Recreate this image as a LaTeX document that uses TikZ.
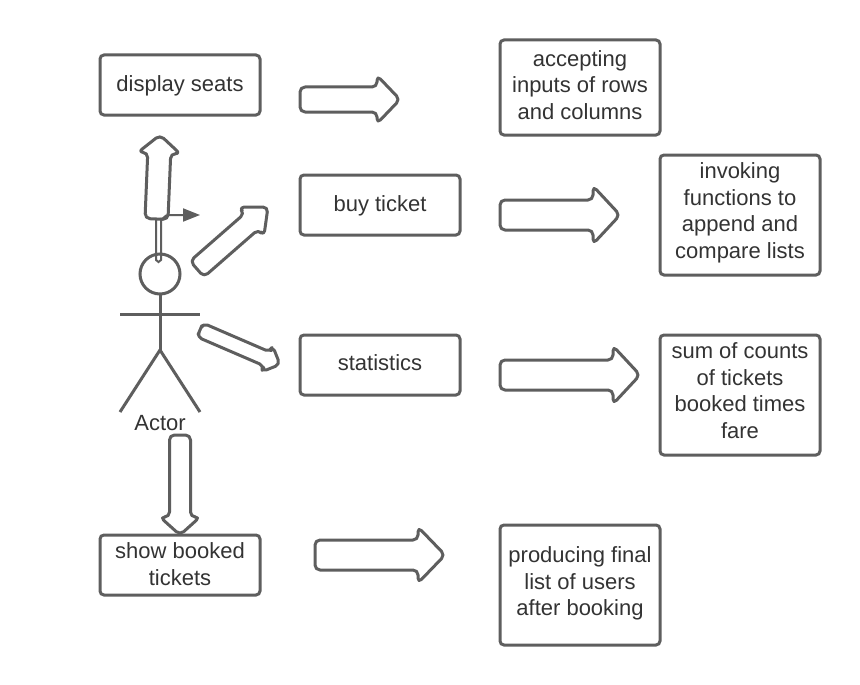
\documentclass[tikz,border=0pt]{standalone}
\usepackage{fontspec}
\setmainfont{Liberation Sans}
\usetikzlibrary{calc,arrows.meta}
\definecolor{linec}{HTML}{5E5E5E}
\definecolor{textc}{HTML}{333333}
\tikzset{
  box/.style={draw=linec,line width=3pt,rounded corners=4pt,fill=white,anchor=north west,inner sep=0pt,outer sep=0pt,
    align=center,text=textc,font=\fontsize{22}{26.5}\selectfont},
  blockarrow/.style={draw=linec,line width=3pt,rounded corners=5pt,line join=round},
  actorline/.style={draw=linec,line width=3pt},
  lbl/.style={text=textc,font=\fontsize{22}{26.5}\selectfont,inner sep=0pt}
}
% start, tip, shaft half width, head half width, head length
\newcommand{\blockarrow}[5]{%
  \coordinate (hb) at ($(#2)!#5!(#1)$);
  \draw[blockarrow] (#1) -- ($(#1)!#3!90:(#2)$) -- ($(hb)!#3!90:(#2)$) -- ($(hb)!#4!90:(#2)$) -- (#2)
    -- ($(hb)!#4!-90:(#2)$) -- ($(hb)!#3!-90:(#2)$) -- ($(#1)!#3!-90:(#2)$) -- cycle;
}
% name, x, y, width, height, raise, text
\newcommand{\boxnode}[7]{\node[box,minimum width=#4pt,minimum height=#5pt] (#1) at (#2,#3)
  {\raisebox{#6pt}[\height][\depth]{\begin{tabular}{@{}c@{}}#7\end{tabular}}};}
\begin{document}
\begin{tikzpicture}[x=1pt,y=-1pt]
\useasboundingbox (0,0) rectangle (860,685);
\fill[white] (0,0) rectangle (860,685);
% boxes
\boxnode{seats}{100}{55}{160}{60}{-1}{display seats}
\boxnode{accept}{500}{40}{160}{95}{0}{accepting\\inputs of rows\\and columns}
\boxnode{buy}{300}{175}{160}{60}{-1}{buy ticket}
\boxnode{invoke}{660}{155}{160}{120}{2}{invoking\\functions to\\append and\\compare lists}
\boxnode{stats}{300}{335}{160}{60}{0}{statistics}
\boxnode{sumc}{660}{335}{160}{120}{2}{sum of counts\\of tickets\\booked times\\fare}
\boxnode{show}{100}{535}{160}{60}{-1.5}{show booked\\tickets}
\boxnode{prod}{500}{525}{160}{120}{1}{producing final\\list of users\\after booking}
% actor
\node[draw=linec,line width=3pt,circle,minimum size=40pt,inner sep=0pt,outer sep=0pt] (head) at (160,274) {};
\coordinate (neck) at (160,350);
\coordinate (armL) at (120,314);
\coordinate (armR) at (200,314);
\coordinate (legL) at (120,412);
\coordinate (legR) at (200,412);
\draw[actorline] (head.south) -- (neck);
\draw[actorline] (armL) -- (armR);
\draw[actorline] (legL) -- (neck) -- (legR);
\node[lbl] (actor) at (160,423) {Actor};
% horizontal block arrows
\coordinate (a1s) at (300,99.5);  \coordinate (a1t) at (400,99.5);
\coordinate (a2s) at (500,215);   \coordinate (a2t) at (620,215);
\coordinate (a3s) at (500,375);   \coordinate (a3t) at (640,375);
\coordinate (a4s) at (315,555);   \coordinate (a4t) at (445,555);
\blockarrow{a1s}{a1t}{12.5pt}{24pt}{23pt}
\blockarrow{a2s}{a2t}{15pt}{29pt}{27pt}
\blockarrow{a3s}{a3t}{15pt}{29pt}{27pt}
\blockarrow{a4s}{a4t}{15pt}{28pt}{27pt}
% arrows round the actor
\coordinate (a5s) at (156.5,219); \coordinate (a5t) at (160,135);
\coordinate (a6s) at (197,269);   \coordinate (a6t) at (268,207);
\coordinate (a7s) at (200,330);   \coordinate (a7t) at (280,364.5);
\coordinate (a8s) at (180,435);   \coordinate (a8t) at (180,535);
\blockarrow{a5s}{a5t}{11.5pt}{21pt}{18pt}
\blockarrow{a6s}{a6t}{10.5pt}{19pt}{22pt}
\blockarrow{a7s}{a7t}{7.5pt}{14pt}{14pt}
\blockarrow{a8s}{a8t}{10.5pt}{20pt}{18pt}
% thin double line to the head
\coordinate (th1) at (158.5,219);
\coordinate (th2) at (158.5,260);
\draw[linec,line width=2pt] ($(th1)+(-2.5,0)$) -- ($(th2)+(-2.5,0)$) -- ($(th2)+(0,2)$) -- ($(th2)+(2.5,0)$) -- ($(th1)+(2.5,0)$);
% small arrow
\coordinate (sa0) at (160,219);
\coordinate (sa1) at (168,215);
\coordinate (sa2) at (200,215);
\draw[linec,line width=2pt,-{Triangle[length=17pt,width=13pt]}] (sa0) to[out=-20,in=180] (sa1) -- (sa2);
\end{tikzpicture}
\end{document}
